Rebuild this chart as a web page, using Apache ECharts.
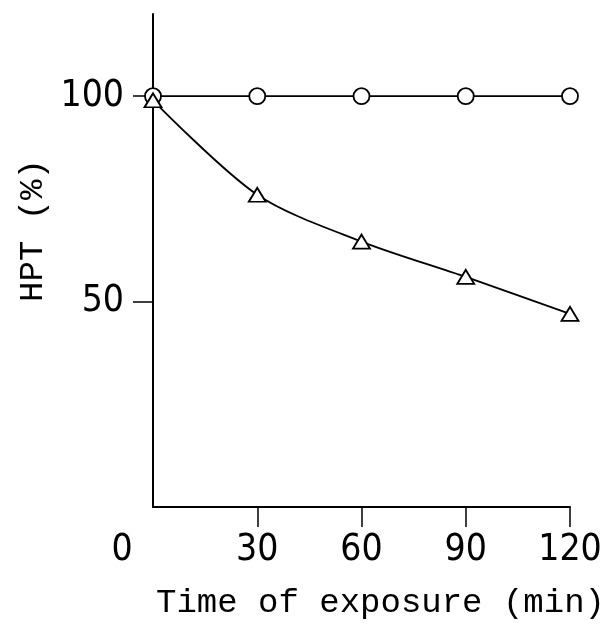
<!DOCTYPE html>
<html>
<head>
<meta charset="utf-8">
<script src="https://cdn.jsdelivr.net/npm/echarts@6/dist/echarts.min.js"></script>
<style>
  html, body { margin: 0; padding: 0; background: #fff; }
  #chart { width: 609px; height: 630px; }
</style>
</head>
<body>
<div id="chart"></div>
<script>
// exposure times (min)
var times = [0, 30, 60, 90, 120];
// HPT (%) - open circles (control) and open triangles (exposed)
var controlHpt = [100, 100, 100, 100, 100];
var exposedHpt = [99, 76, 64.6, 56, 47];
// tick positions
var xTickValues = [30, 60, 90, 120];
var xLabelValues = [0, 30, 60, 90, 120];
var yTickValues = [50, 100];

var numFont = "'Liberation Sans Narrow', 'DejaVu Sans Condensed', sans-serif";
var monoFont = "'Liberation Mono', 'DejaVu Sans Mono', monospace";

function pairs(xs, ys) {
  var out = [];
  for (var i = 0; i < xs.length; i++) out.push([xs[i], ys[i]]);
  return out;
}

var myChart = echarts.init(document.getElementById('chart'));
var option = {
  backgroundColor: '#fff',
  animation: false,
  grid: { left: 153, right: 39, top: 14, bottom: 123 },
  xAxis: {
    type: 'value',
    min: 0,
    max: 120,
    interval: 30,
    name: 'Time of exposure (min)',
    nameLocation: 'middle',
    nameGap: 79,
    nameTextStyle: { fontFamily: monoFont, fontSize: 34, color: '#000', padding: [0, 0, 0, 38] },
    axisLine: { lineStyle: { color: '#000', width: 2 } },
    axisTick: { customValues: xTickValues, length: 20, lineStyle: { color: '#000', width: 1.5 } },
    axisLabel: {
      customValues: xLabelValues,
      margin: 25,
      fontFamily: numFont,
      fontSize: 37,
      color: '#000',
      formatter: function (v) { return v === 0 ? '{zero|0}' : String(v); },
      rich: { zero: { fontFamily: numFont, fontSize: 37, color: '#000', padding: [0, 62, 0, 0] } }
    },
    splitLine: { show: false }
  },
  yAxis: {
    type: 'value',
    min: 0,
    max: 120,
    interval: 50,
    name: 'HPT (%)',
    nameLocation: 'middle',
    nameRotate: 90,
    nameGap: 102,
    nameTextStyle: { fontFamily: monoFont, fontSize: 34, color: '#000', padding: [0, 0, 0, 60] },
    axisLine: { lineStyle: { color: '#000', width: 2 } },
    axisTick: { customValues: yTickValues, length: 20, lineStyle: { color: '#000', width: 1.5 } },
    axisLabel: {
      customValues: yTickValues,
      margin: 29,
      fontFamily: numFont,
      fontSize: 37,
      color: '#000'
    },
    splitLine: { show: false }
  },
  series: [
    {
      name: 'control',
      type: 'line',
      data: pairs(times, controlHpt),
      symbol: 'circle',
      symbolSize: 16,
      lineStyle: { color: '#000', width: 1.8 },
      itemStyle: { color: '#fff', borderColor: '#000', borderWidth: 1.8 },
      z: 3
    },
    {
      name: 'exposed',
      type: 'line',
      data: pairs(times, exposedHpt),
      smooth: 0.3,
      symbol: 'triangle',
      symbolSize: [17, 14],
      lineStyle: { color: '#000', width: 1.8 },
      itemStyle: { color: '#fff', borderColor: '#000', borderWidth: 1.8 },
      z: 4
    }
  ]
};
myChart.setOption(option);
</script>
</body>
</html>
